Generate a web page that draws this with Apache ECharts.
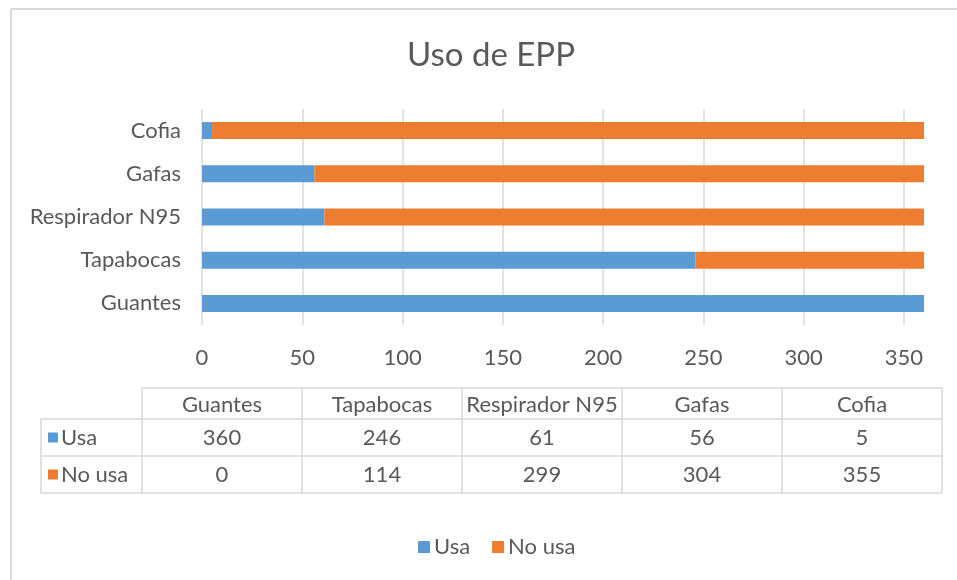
<!DOCTYPE html>
<html>
<head>
<meta charset="utf-8">
<title>Uso de EPP</title>
<script src="https://cdn.jsdelivr.net/npm/echarts@6/dist/echarts.min.js"></script>
<style>
  html, body { margin: 0; padding: 0; background: #fff; }
  #chart { width: 957px; height: 580px; }
</style>
</head>
<body>
<div id="chart"></div>
<script>
// datos del grafico (de abajo hacia arriba en el eje)
const categorias = ['Guantes', 'Tapabocas', 'Respirador N95', 'Gafas', 'Cofia'];
const usa = [360, 246, 61, 56, 5];
const noUsa = [0, 114, 299, 304, 355];
const nombresSeries = ['Usa', 'No usa'];
const colores = ['#5B9BD5', '#ED7D31'];

const FONT = 'Lato';
const TXT = '#595959';
const LINEA = '#d9d9d9';
const TAM = 22;

/**
 * tabla de datos debajo del grafico, armada con graphic
 */
function tablaDatos() {
    const x0 = 41, col0 = 101, colW = 160;
    const filas = [388, 419, 456, 493];
    const xDer = x0 + col0 + colW * categorias.length;
    const valores = [usa, noUsa];
    const fuente = TAM + 'px ' + FONT;
    const els = [];
    filas.forEach((y, i) => {
        els.push({
            type: 'line',
            shape: { x1: i === 0 ? x0 + col0 : x0, y1: y, x2: xDer, y2: y },
            style: { stroke: LINEA, lineWidth: 1.5 }
        });
    });
    els.push({
        type: 'line',
        shape: { x1: x0, y1: filas[1], x2: x0, y2: filas[3] },
        style: { stroke: LINEA, lineWidth: 1.5 }
    });
    for (let c = 0; c <= categorias.length; c++) {
        const x = x0 + col0 + c * colW;
        els.push({
            type: 'line',
            shape: { x1: x, y1: filas[0], x2: x, y2: filas[3] },
            style: { stroke: LINEA, lineWidth: 1.5 }
        });
    }
    // encabezados
    categorias.forEach((cat, c) => {
        els.push({
            type: 'text',
            x: x0 + col0 + c * colW + colW / 2,
            y: (filas[0] + filas[1]) / 2 + 1,
            style: { text: cat, fill: TXT, font: fuente, align: 'center', verticalAlign: 'middle' }
        });
    });
    // filas de series
    nombresSeries.forEach((nombre, r) => {
        const yc = (filas[r + 1] + filas[r + 2]) / 2;
        els.push({
            type: 'rect',
            shape: { x: x0 + 7, y: yc - 5, width: 10, height: 10 },
            style: { fill: colores[r] }
        });
        els.push({
            type: 'text',
            x: x0 + 20,
            y: yc,
            style: { text: nombre, fill: TXT, font: fuente, align: 'left', verticalAlign: 'middle' }
        });
        valores[r].forEach((v, c) => {
            els.push({
                type: 'text',
                x: x0 + col0 + c * colW + colW / 2,
                y: yc,
                style: { text: String(v), fill: TXT, font: fuente, align: 'center', verticalAlign: 'middle' }
            });
        });
    });
    // borde del area del grafico
    els.push({ type: 'line', shape: { x1: 11, y1: 9, x2: 11, y2: 580 }, style: { stroke: LINEA, lineWidth: 2 } });
    els.push({ type: 'line', shape: { x1: 11, y1: 9, x2: 957, y2: 9 }, style: { stroke: LINEA, lineWidth: 2 } });
    return els;
}

const chart = echarts.init(document.getElementById('chart'));

const option = {
    animation: false,
    textStyle: { fontFamily: FONT, color: TXT },
    title: {
        text: 'Uso de EPP',
        left: 486,
        top: 34,
        textAlign: 'center',
        textStyle: { fontFamily: FONT, fontSize: 33, fontWeight: 'normal', color: TXT }
    },
    legend: {
        bottom: 17,
        left: 413,
        itemWidth: 12,
        itemHeight: 12,
        itemGap: 22,
        icon: 'rect',
        textStyle: { fontFamily: FONT, fontSize: TAM, color: TXT, padding: [0, 0, 0, -1] },
        data: nombresSeries
    },
    grid: { left: 202, right: 33, top: 109, height: 216, containLabel: false },
    xAxis: {
        type: 'value',
        min: 0,
        max: 360,
        interval: 50,
        axisLine: { show: false },
        axisTick: { show: false },
        axisLabel: { showMaxLabel: false, margin: 22, fontSize: TAM, color: TXT, fontFamily: FONT },
        splitLine: { show: true, showMaxLine: false, lineStyle: { color: LINEA, width: 1.5 } }
    },
    yAxis: {
        type: 'category',
        data: categorias,
        axisLine: { show: false },
        axisTick: { show: false },
        axisLabel: { margin: 21, fontSize: TAM, color: TXT, fontFamily: FONT }
    },
    series: nombresSeries.map((nombre, i) => ({
        name: nombre,
        type: 'bar',
        stack: 'total',
        barWidth: 17,
        itemStyle: { color: colores[i] },
        data: i === 0 ? usa : noUsa
    })),
    graphic: tablaDatos()
};

chart.setOption(option);
</script>
</body>
</html>
